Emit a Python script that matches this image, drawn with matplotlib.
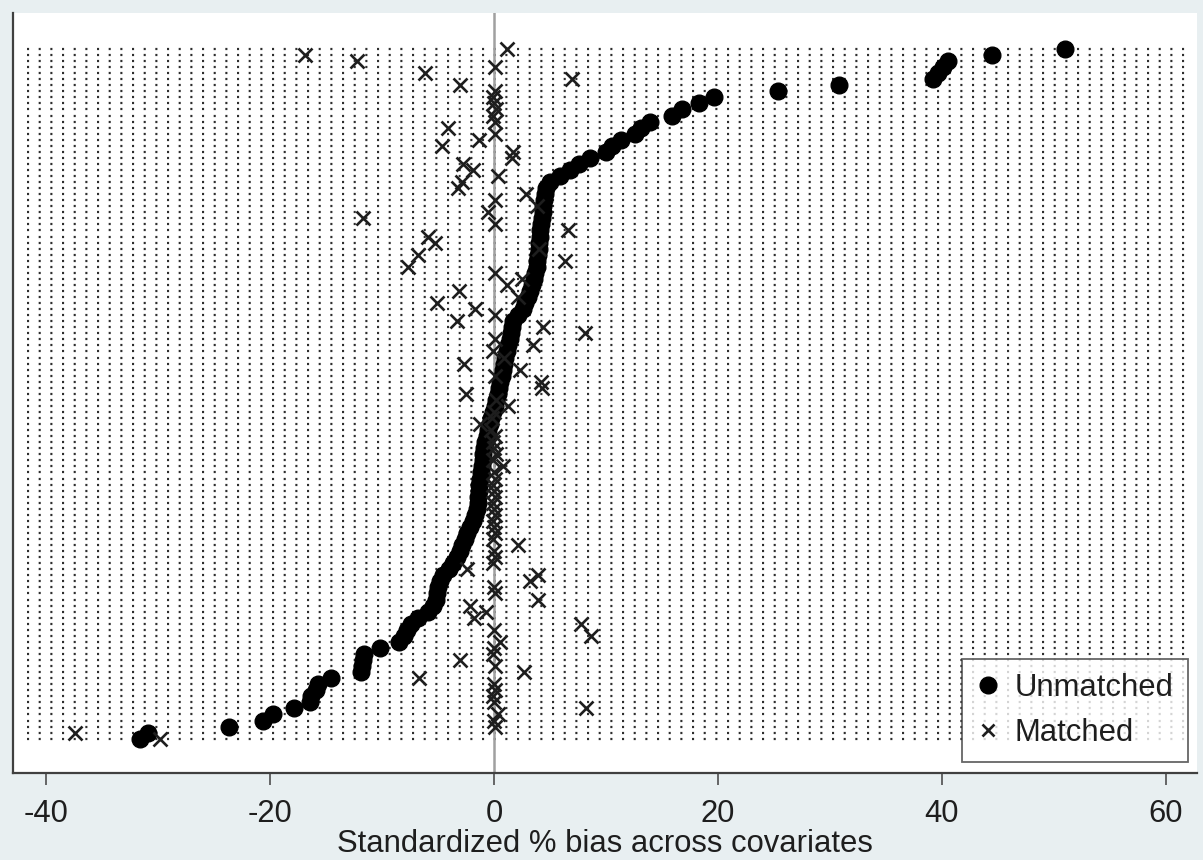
import numpy as np
import matplotlib
matplotlib.use("Agg")
import matplotlib.pyplot as plt
from matplotlib.lines import Line2D

plt.rcParams["font.family"] = ["Liberation Sans", "DejaVu Sans"]
plt.rcParams["axes.unicode_minus"] = False
plt.rcParams["lines.scale_dashes"] = False

# standardized % bias per covariate, listed from the top row to the bottom row
unmatched = [51.0, 44.5, 40.5, 40.1, 39.6, 39.2, 30.8, 25.4, 19.6, 18.3,
             16.8, 15.9, 13.9, 13.1, 12.6, 11.3, 10.5, 10.0, 8.6, 7.6,
             6.8, 5.9, 5.0, 4.6, 4.55, 4.5, 4.4, 4.35, 4.3, 4.2,
             4.1, 4.1, 4.0, 4.0, 3.9, 3.85, 3.8, 3.7, 3.6, 3.4,
             3.2, 3.0, 2.8, 2.6, 2.1, 1.7, 1.6, 1.5, 1.4, 1.25,
             1.15, 1.0, 0.9, 0.8, 0.7, 0.55, 0.45, 0.35, 0.2, 0.1,
             -0.1, -0.25, -0.35, -0.55, -0.65, -0.8, -0.9, -1.0, -1.0, -1.1,
             -1.15, -1.25, -1.3, -1.35, -1.4, -1.45, -1.5, -1.7, -1.9, -2.1,
             -2.4, -2.6, -2.85, -3.0, -3.3, -3.65, -4.0, -4.55, -4.8, -5.0,
             -5.1, -5.2, -5.45, -5.9, -6.8, -7.4, -7.8, -8.0, -8.5, -10.2,
             -11.6, -11.7, -11.8, -11.9, -14.6, -15.7, -15.9, -16.3, -16.4, -17.9,
             -19.7, -20.6, -23.7, -30.9, -31.6]

matched = [1.2, -16.9, -12.2, 0.1, -6.2, 7.0, -3.0, 0.1, -0.1, 0.0,
           0.2, -0.1, 0.1, -4.1, 0.1, -1.3, -4.6, 1.7, 1.6, -2.8,
           -1.9, 0.35, -2.9, -3.2, 2.9, 0.1, 3.8, -0.5, -11.7, 0.05,
           6.6, -5.9, -5.3, 4.0, -6.8, 6.3, -7.7, 0.05, 2.5, 1.2,
           -3.1, 2.1, -5.1, -1.7, 0.1, -3.3, 4.4, 8.1, 0.1, 3.5,
           -0.1, 0.9, -2.7, 2.3, 0.05, 4.2, 4.3, -2.5, 0.2, 1.25,
           0.0, -0.2, -1.25, -0.3, 0.1, -0.1, 0.0, 0.2, -0.1, 0.8,
           0.0, 0.1, -0.1, 0.0, 0.1, -0.1, 0.0, 0.1, -0.1, 0.0,
           0.1, -0.1, 2.1, 0.0, 0.1, -0.1, -2.4, 3.9, 3.2, 0.0,
           0.1, 3.9, -2.1, -0.7, -1.8, 7.8, 0.0, 8.7, 0.5, 0.0,
           -0.1, -3.0, 0.1, 2.7, -6.7, 0.0, 0.1, -0.1, 0.0, 8.2,
           0.35, 0.0, 0.1, -37.4, -29.8]

xticks = [-40, -20, 0, 20, 40, 60]
xlabel = "Standardized % bias across covariates"
legend_labels = ["Unmatched", "Matched"]

n = len(unmatched)
rows = np.arange(n)[::-1]

bg = "#e8eff1"
ink = "#1e1e1e"
fs = 22.3

fig = plt.figure(figsize=(12.03, 8.6), dpi=100)
fig.patch.set_facecolor(bg)
ax = fig.add_axes([13 / 1203, 87 / 860, 1184 / 1203, 760 / 860])
ax.set_facecolor("white")

ax.set_xlim(-42.95, 62.77)
ax.set_ylim(-5.67, n - 1 + 5.95)

# dotted guide line for every covariate
ax.hlines(rows, -41.7, 62.2, colors="#2e2e2e", linewidth=1.6,
          linestyles=(0, (1.5, 6.9)), zorder=1)
ax.axvline(0, color="#a0a0a0", linewidth=1.8, zorder=2)

ax.plot(unmatched, rows, "o", color="black", markersize=12, zorder=3,
        linestyle="none")
ax.plot(matched, rows, "x", color=ink, markersize=9.5, markeredgewidth=1.9,
        zorder=4, linestyle="none")

for s in ["top", "right"]:
    ax.spines[s].set_visible(False)
for s in ["left", "bottom"]:
    ax.spines[s].set_color("#404040")
    ax.spines[s].set_linewidth(1.6)

ax.set_yticks([])
ax.set_xticks(xticks)
ax.set_xticklabels([str(t) for t in xticks])
ax.tick_params(axis="x", direction="out", length=8.5, width=1.1,
               color="#404040", labelsize=fs, labelcolor=ink, pad=10)
ax.set_xlabel(xlabel, fontsize=fs, color=ink, labelpad=0)

handles = [Line2D([], [], marker="o", color="black", markersize=12, linestyle="none"),
           Line2D([], [], marker="x", color=ink, markersize=8,
                  markeredgewidth=1.9, linestyle="none")]
leg = ax.legend(handles, legend_labels, loc="lower right",
                bbox_to_anchor=(0.992, 0.0145), borderaxespad=0,
                fontsize=fs, frameon=True, fancybox=False, handlelength=0.8,
                handletextpad=0.45, labelspacing=0.5, borderpad=0.45)
leg.get_frame().set_edgecolor("#404040")
leg.get_frame().set_linewidth(1.3)
for t in leg.get_texts():
    t.set_color(ink)

fig.savefig("out.png", dpi=100, facecolor=bg)
